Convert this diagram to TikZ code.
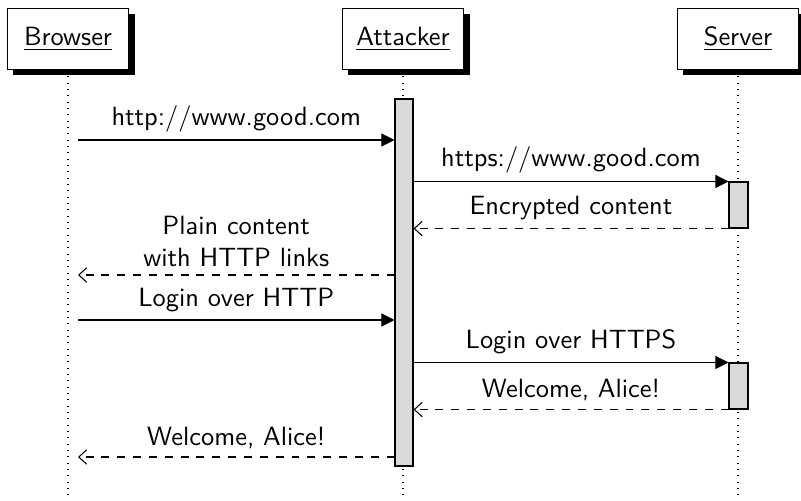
\documentclass[tikz,border=0pt]{standalone}
\usepackage{tikz}
\usetikzlibrary{arrows.meta,positioning,fit,calc,shadows}

\begin{document}
\begin{tikzpicture}[x=0.3788pt,y=-0.3788pt,
  font=\sffamily,
  inst/.style={draw,fill=white,minimum width=46pt,minimum height=23pt,inner sep=0pt,
    general shadow={fill=black,shadow xshift=2.2pt,shadow yshift=-2.2pt}},
  life/.style={dotted,thin},
  act/.style={draw,fill=black!15,inner sep=0pt},
  call/.style={-{Triangle[length=5pt,width=5pt]}},
  reply/.style={dashed,-{Straight Barb[length=3pt,width=5.5pt]}},
  msg/.style={above=-0.4pt,align=center}
]
\useasboundingbox (0,0) rectangle (801,500);
\coordinate (bot) at (0,500);
% threads
\node[inst] (browser) at (68,39) {\underline{Browser}};
\node[inst] (attacker) at (403,39) {\underline{Attacker}};
\node[inst] (server) at (738,39) {\underline{Server}};
\draw[life] (browser.south) -- (browser.south |- bot);
\draw[life] (attacker.south) -- (attacker.south |- bot);
\draw[life] (server.south) -- (server.south |- bot);
% activations
\node[act,fit={(395,99) (413,466)}] (actA) {};
\node[act,fit={(729,182) (748,228)}] (actS1) {};
\node[act,fit={(729,363) (748,409)}] (actS2) {};
% messages
\coordinate (m1) at (78,140);
\coordinate (m4) at (78,275);
\coordinate (m5) at (78,320);
\coordinate (m8) at (78,457);
\draw[call] (m1) -- (m1 -| actA.west) node[msg,midway] {http://www.good.com};
\draw[call] (actA.east |- actS1.north) -- (actS1.north west) node[msg,midway] {https://www.good.com};
\draw[reply] (actS1.south west) -- (actA.east |- actS1.south) node[msg,midway] {Encrypted content};
\draw[reply] (actA.west |- m4) -- (m4) node[msg,midway] {Plain content\\with HTTP links};
\draw[call] (m5) -- (m5 -| actA.west) node[msg,midway] {Login over HTTP};
\draw[call] (actA.east |- actS2.north) -- (actS2.north west) node[msg,midway] {Login over HTTPS};
\draw[reply] (actS2.south west) -- (actA.east |- actS2.south) node[msg,midway] {Welcome, Alice!};
\draw[reply] (actA.west |- m8) -- (m8) node[msg,midway] {Welcome, Alice!};
\end{tikzpicture}
\end{document}
